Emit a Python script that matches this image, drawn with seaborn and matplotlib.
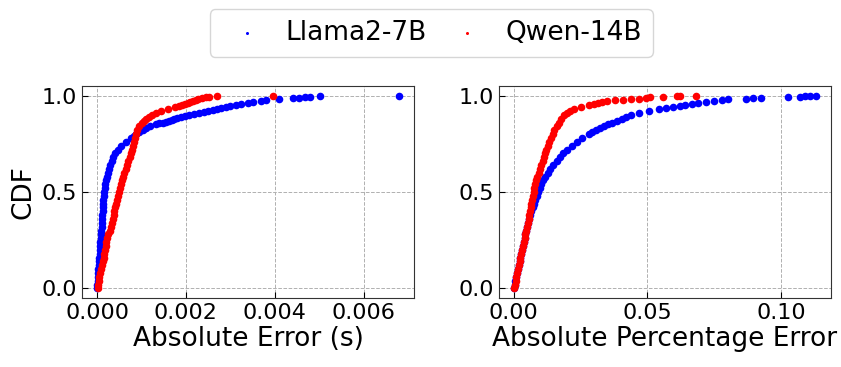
import matplotlib
matplotlib.use("Agg")
import matplotlib.pyplot as plt
import numpy as np
import seaborn as sns

## Values (error value, CDF level) ##
models = ["Llama2-7B", "Qwen-14B"]
colors = ["blue", "red"]

llama_abs_cdf = [0.00, 0.02, 0.04, 0.06, 0.08, 0.10, 0.12, 0.14, 0.16, 0.18, 0.20, 0.22, 0.24, 0.26, 0.28,
                 0.30, 0.32, 0.34, 0.36, 0.38, 0.40, 0.42, 0.44, 0.46, 0.48, 0.50, 0.52, 0.54, 0.56, 0.58,
                 0.60, 0.62, 0.64, 0.66, 0.68, 0.70, 0.72, 0.74, 0.76, 0.78, 0.79, 0.80, 0.81, 0.82, 0.83,
                 0.84, 0.85, 0.855, 0.86, 0.865, 0.87, 0.875, 0.88, 0.885, 0.89, 0.895, 0.90, 0.905, 0.91,
                 0.915, 0.92, 0.925, 0.93, 0.935, 0.94, 0.945, 0.95, 0.955, 0.96, 0.965, 0.97, 0.975, 0.98,
                 0.985, 0.988, 0.991, 0.994, 0.997, 1.00]
llama_abs_err = [0.000000, 0.000006, 0.000012, 0.000018, 0.000024, 0.000030, 0.000037, 0.000043, 0.000050,
                 0.000056, 0.000062, 0.000069, 0.000076, 0.000082, 0.000089, 0.000095, 0.000101, 0.000107,
                 0.000113, 0.000119, 0.000125, 0.000131, 0.000137, 0.000144, 0.000151, 0.000160, 0.000170,
                 0.000182, 0.000196, 0.000214, 0.000236, 0.000262, 0.000292, 0.000326, 0.000362, 0.000405,
                 0.000460, 0.000540, 0.000650, 0.000760, 0.000820, 0.000880, 0.000950, 0.001030, 0.001110,
                 0.001200, 0.001320, 0.001400, 0.001480, 0.001560, 0.001620, 0.001680, 0.001740, 0.001800,
                 0.001880, 0.001980, 0.002080, 0.002180, 0.002300, 0.002400, 0.002500, 0.002600, 0.002700,
                 0.002800, 0.002900, 0.003000, 0.003120, 0.003240, 0.003400, 0.003520, 0.003680, 0.003800,
                 0.004100, 0.004400, 0.004550, 0.004680, 0.004800, 0.005020, 0.006800]

qwen_abs_cdf = [0.00, 0.02, 0.04, 0.06, 0.08, 0.10, 0.12, 0.14, 0.16, 0.18, 0.20, 0.22, 0.24, 0.26, 0.28,
                0.30, 0.32, 0.34, 0.36, 0.38, 0.40, 0.42, 0.44, 0.46, 0.48, 0.50, 0.52, 0.54, 0.56, 0.58,
                0.60, 0.62, 0.64, 0.66, 0.68, 0.70, 0.72, 0.74, 0.76, 0.78, 0.80, 0.82, 0.84, 0.86, 0.87,
                0.88, 0.89, 0.90, 0.91, 0.92, 0.93, 0.94, 0.945, 0.95, 0.955, 0.96, 0.965, 0.97, 0.975,
                0.98, 0.985, 0.99, 0.993, 0.996, 1.00]
qwen_abs_err = [0.000010, 0.000022, 0.000034, 0.000048, 0.000065, 0.000085, 0.000105, 0.000125, 0.000145,
                0.000162, 0.000178, 0.000194, 0.000210, 0.000230, 0.000255, 0.000280, 0.000305, 0.000330,
                0.000350, 0.000370, 0.000390, 0.000410, 0.000435, 0.000455, 0.000478, 0.000500, 0.000520,
                0.000540, 0.000555, 0.000580, 0.000610, 0.000640, 0.000670, 0.000700, 0.000730, 0.000760,
                0.000785, 0.000810, 0.000830, 0.000850, 0.000875, 0.000905, 0.000950, 0.001010, 0.001050,
                0.001100, 0.001160, 0.001240, 0.001330, 0.001450, 0.001600, 0.001760, 0.001850, 0.001920,
                0.001980, 0.002040, 0.002100, 0.002160, 0.002220, 0.002280, 0.002360, 0.002450, 0.002530,
                0.002700, 0.003970]

llama_pct_cdf = [0.00, 0.02, 0.04, 0.06, 0.08, 0.10, 0.12, 0.14, 0.16, 0.18, 0.20, 0.22, 0.24, 0.26, 0.28,
                 0.30, 0.32, 0.34, 0.36, 0.38, 0.40, 0.42, 0.44, 0.46, 0.48, 0.50, 0.52, 0.54, 0.56, 0.58,
                 0.60, 0.62, 0.64, 0.66, 0.68, 0.70, 0.72, 0.74, 0.76, 0.78, 0.80, 0.81, 0.82, 0.83, 0.84,
                 0.85, 0.86, 0.87, 0.88, 0.89, 0.90, 0.91, 0.92, 0.93, 0.935, 0.94, 0.945, 0.95, 0.955,
                 0.96, 0.965, 0.97, 0.975, 0.98, 0.983, 0.986, 0.989, 0.991, 0.993, 0.995, 0.997, 1.00]
llama_pct_err = [0.0000, 0.0003, 0.0006, 0.0010, 0.0013, 0.0016, 0.0019, 0.0022, 0.0025, 0.0028, 0.0031,
                 0.0034, 0.0037, 0.0040, 0.0043, 0.0047, 0.0050, 0.0053, 0.0057, 0.0061, 0.0066, 0.0071,
                 0.0076, 0.0081, 0.0086, 0.0092, 0.0097, 0.0103, 0.0110, 0.0118, 0.0127, 0.0137, 0.0148,
                 0.0160, 0.0172, 0.0185, 0.0200, 0.0216, 0.0235, 0.0255, 0.0280, 0.0293, 0.0308, 0.0322,
                 0.0337, 0.0352, 0.0368, 0.0385, 0.0403, 0.0420, 0.0440, 0.0470, 0.0505, 0.0545, 0.0570,
                 0.0595, 0.0620, 0.0640, 0.0665, 0.0690, 0.0720, 0.0750, 0.0780, 0.0800, 0.0870, 0.0895,
                 0.0925, 0.1025, 0.1070, 0.1090, 0.1110, 0.1130]

qwen_pct_cdf = [0.00, 0.02, 0.04, 0.06, 0.08, 0.10, 0.12, 0.14, 0.16, 0.18, 0.20, 0.22, 0.24, 0.26, 0.28,
                0.30, 0.32, 0.34, 0.36, 0.38, 0.40, 0.42, 0.44, 0.46, 0.48, 0.50, 0.52, 0.54, 0.56, 0.58,
                0.60, 0.62, 0.64, 0.66, 0.68, 0.70, 0.72, 0.74, 0.76, 0.78, 0.80, 0.82, 0.84, 0.86, 0.88,
                0.90, 0.91, 0.92, 0.93, 0.94, 0.95, 0.955, 0.96, 0.965, 0.97, 0.975, 0.978, 0.981, 0.984,
                0.987, 0.990, 0.993, 0.995, 0.997, 1.00]
qwen_pct_err = [0.0000, 0.0004, 0.0007, 0.0010, 0.0013, 0.0016, 0.0019, 0.0022, 0.0025, 0.0028, 0.0031,
                0.0034, 0.0037, 0.0040, 0.0043, 0.0046, 0.0049, 0.0052, 0.0055, 0.0058, 0.0061, 0.0063,
                0.0066, 0.0068, 0.0071, 0.0074, 0.0077, 0.0080, 0.0084, 0.0088, 0.0093, 0.0098, 0.0103,
                0.0108, 0.0112, 0.0117, 0.0122, 0.0127, 0.0133, 0.0139, 0.0145, 0.0152, 0.0160, 0.0168,
                0.0177, 0.0188, 0.0198, 0.0210, 0.0225, 0.0252, 0.0280, 0.0300, 0.0315, 0.0330, 0.0350,
                0.0380, 0.0410, 0.0440, 0.0470, 0.0495, 0.0510, 0.0557, 0.0610, 0.0620, 0.0683]

#===============
# CDF figure
#===============
plt.rcParams['xtick.direction'] = 'in'
plt.rcParams['ytick.direction'] = 'in'
plt.rcParams['font.family'] = ['DejaVu Sans']

fig = plt.figure(figsize=(8.41, 3.67), dpi=100)
ax1 = fig.add_axes([0.0975, 0.188, 0.395, 0.578])
ax2 = fig.add_axes([0.593, 0.188, 0.395, 0.578])

panels = [
    (ax1, [(llama_abs_err, llama_abs_cdf), (qwen_abs_err, qwen_abs_cdf)], "Absolute Error (s)", [0, 0.002, 0.004, 0.006], "{:.3f}"),
    (ax2, [(llama_pct_err, llama_pct_cdf), (qwen_pct_err, qwen_pct_cdf)], "Absolute Percentage Error", [0, 0.05, 0.10], "{:.2f}"),
]

for ax, series, xlabel, xticks, fmt in panels:
    for (err, cdf), name, c in zip(series, models, colors):
        sns.scatterplot(x=err, y=cdf, color=c, s=30, linewidth=0, label=name, ax=ax, zorder=3)
    ax.grid(True, ls='--', color='#b0b0b0', lw=0.7)
    ax.set_axisbelow(True)
    ax.set_xticks(xticks)
    ax.set_xticklabels([fmt.format(t) for t in xticks])
    ax.set_yticks([0.0, 0.5, 1.0])
    ax.set_yticklabels(["0.0", "0.5", "1.0"])
    ax.tick_params(labelsize=16, length=4)
    ax.set_xlabel(xlabel, fontsize=19, labelpad=2)
    for sp in ax.spines.values():
        sp.set_color('#333333')
    ax.get_legend().remove()

ax1.set_ylabel("CDF", fontsize=19)

handles, labels = ax1.get_legend_handles_labels()
fig.legend(handles, labels, loc='center', bbox_to_anchor=(0.513, 0.91), ncol=2,
           fontsize=19, markerscale=0.4, handletextpad=0.45, columnspacing=0.55)

plt.savefig("out.png", dpi=100)
